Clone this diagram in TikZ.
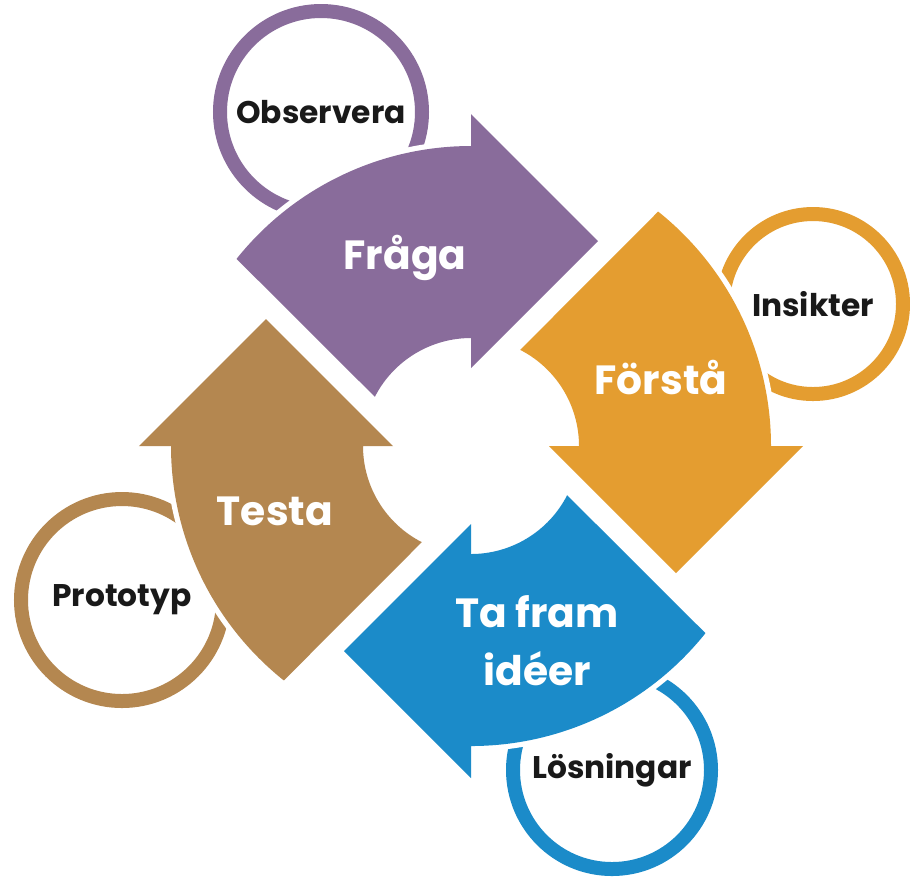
\documentclass[tikz,border=0pt]{standalone}
\usepackage{fontspec}
\setmainfont{Poppins}
\definecolor{lila}{RGB}{137,108,155}
\definecolor{gul}{RGB}{228,157,48}
\definecolor{bla}{RGB}{27,139,201}
\definecolor{brun}{RGB}{180,135,80}
\newcommand{\pilform}{(0,1.08) -- (0,0.78) -- (1.27,2.05) -- (0,3.32) -- (0,3) arc[start angle=90, end angle=141.4, radius=3] -- (152.9:1.08) arc[start angle=152.9, end angle=90, radius=1.08] -- cycle}

\begin{document}
\begin{tikzpicture}[
	pil/.style={fill=#1, preaction={draw=white, line width=3pt, line join=miter}},
	ring/.style={circle, draw=#1, fill=white, line width=0.14cm, inner sep=0pt, font=\fontsize{8.9}{10}\selectfont\bfseries, text=black!90},
	steg/.style={text=white, font=\fontsize{11.6}{16.5}\selectfont\bfseries, align=center}]
	
	\useasboundingbox (-4.71,-4.30) rectangle (4.39,4.46);
	
	\node[ring=lila, minimum size=2.02cm] (observera) at (-1.50,3.34) {Observera};
	\node[ring=gul, minimum size=1.80cm] (insikter) at (3.42,1.42) {Insikter};
	\node[ring=bla, minimum size=1.98cm] (losningar) at (1.41,-3.24) {Lösningar};
	\node[ring=brun, minimum size=2.02cm] (prototyp) at (-3.49,-1.54) {Prototyp};
	
	\fill[pil=lila] \pilform;
	\fill[pil=gul, rotate=-90] \pilform;
	\fill[pil=bla, rotate=180] \pilform;
	\fill[pil=brun, rotate=90] \pilform;
	
	\node[steg] (fraga) at (-0.66,1.88) {Fråga};
	\node[steg] (forsta) at (1.90,0.69) {Förstå};
	\node[steg] (ideer) at (0.66,-1.95) {Ta fram\\idéer};
	\node[steg] (testa) at (-1.96,-0.65) {Testa};
	
\end{tikzpicture}
\end{document}
